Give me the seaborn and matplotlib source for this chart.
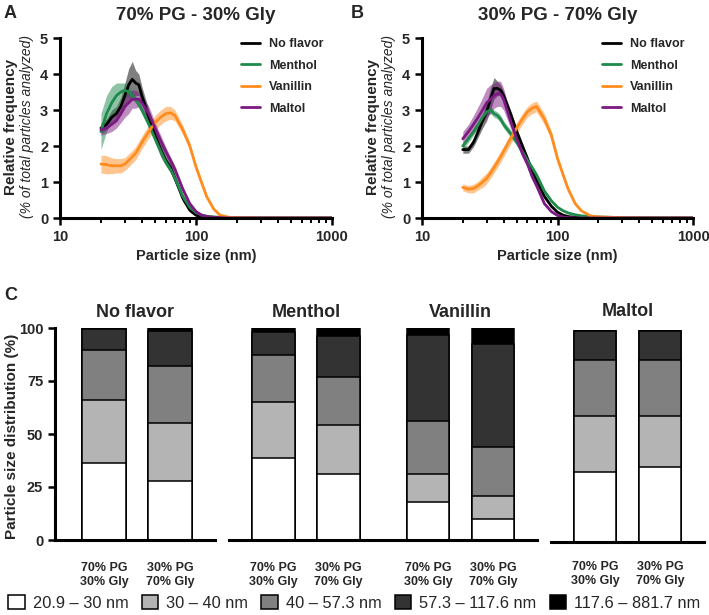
import matplotlib
matplotlib.use("Agg")
import matplotlib.pyplot as plt
import seaborn as sns
import pandas as pd
import numpy as np
from matplotlib.patches import Patch
from matplotlib.ticker import LogLocator, NullFormatter

sns.set_theme(style="ticks")
plt.rcParams['font.family'] = ['Liberation Sans', 'DejaVu Sans']

# particle size grid (nm)
size_nm = [20, 22, 24, 26, 28, 30, 32, 34, 36, 38, 40, 45, 50, 55, 60, 65, 70, 80, 90, 100,
           110, 120, 135, 150, 175, 200, 300, 500, 1000]

flavors = ["No flavor", "Menthol", "Vanillin", "Maltol"]
line_colors = ["#000000", "#1e8a4c", "#ff8c1e", "#7d1a82"]

# panel A: 70% PG - 30% Gly  (mean and band half-width)
a_noflavor = [2.5, 2.6, 2.8, 2.9, 3.1, 3.4, 3.7, 3.85, 3.75, 3.7, 3.4, 2.8, 2.3, 1.9, 1.6, 1.4, 1.1, 0.55, 0.22, 0.08,
              0.04, 0.02, 0.01, 0, 0, 0, 0, 0, 0]
a_noflavor_sd = [0.15, 0.15, 0.2, 0.2, 0.25, 0.35, 0.45, 0.5, 0.35, 0.3, 0.25, 0.2, 0.2, 0.2, 0.15, 0.15, 0.12, 0.1, 0.06, 0.04,
                 0.02, 0.01, 0.01, 0, 0, 0, 0, 0, 0]
a_menthol = [2.4, 2.9, 3.2, 3.4, 3.5, 3.55, 3.5, 3.4, 3.3, 3.15, 3.0, 2.6, 2.2, 1.85, 1.55, 1.35, 1.1, 0.6, 0.3, 0.15,
             0.08, 0.05, 0.03, 0.02, 0.01, 0.01, 0, 0, 0]
a_menthol_sd = [0.5, 0.5, 0.45, 0.35, 0.25, 0.2, 0.15, 0.12, 0.1, 0.1, 0.1, 0.1, 0.1, 0.1, 0.08, 0.08, 0.06, 0.05, 0.04, 0.03,
                0.02, 0.01, 0.01, 0, 0, 0, 0, 0, 0]
a_vanillin = [1.5, 1.48, 1.45, 1.45, 1.45, 1.5, 1.6, 1.7, 1.8, 1.95, 2.1, 2.4, 2.65, 2.8, 2.9, 2.92, 2.85, 2.45, 2.0, 1.42,
              0.98, 0.59, 0.25, 0.08, 0.02, 0.01, 0, 0, 0]
a_vanillin_sd = [0.25, 0.25, 0.22, 0.2, 0.2, 0.18, 0.18, 0.18, 0.18, 0.18, 0.18, 0.18, 0.2, 0.2, 0.2, 0.18, 0.15, 0.12, 0.1, 0.08,
                 0.07, 0.05, 0.03, 0.02, 0.01, 0, 0, 0, 0]
a_maltol = [2.45, 2.5, 2.6, 2.7, 2.9, 3.1, 3.2, 3.3, 3.3, 3.3, 3.2, 2.9, 2.5, 2.15, 1.85, 1.6, 1.35, 0.8, 0.4, 0.18,
            0.08, 0.04, 0.02, 0.01, 0, 0, 0, 0, 0]
a_maltol_sd = [0.15, 0.15, 0.2, 0.2, 0.25, 0.3, 0.3, 0.25, 0.25, 0.2, 0.2, 0.2, 0.15, 0.15, 0.12, 0.1, 0.1, 0.08, 0.05, 0.03,
               0.02, 0.01, 0.01, 0, 0, 0, 0, 0, 0]

# panel B: 30% PG - 70% Gly
b_noflavor = [1.9, 1.9, 2.1, 2.4, 2.7, 2.95, 3.3, 3.6, 3.6, 3.55, 3.4, 2.9, 2.4, 2.0, 1.65, 1.3, 1.05, 0.6, 0.33, 0.16,
              0.08, 0.04, 0.02, 0.01, 0.01, 0, 0, 0, 0]
b_noflavor_sd = [0.1, 0.1, 0.12, 0.15, 0.2, 0.25, 0.3, 0.3, 0.2, 0.15, 0.12, 0.1, 0.1, 0.1, 0.08, 0.08, 0.06, 0.05, 0.04, 0.03,
                 0.02, 0.01, 0.01, 0, 0, 0, 0, 0, 0]
b_menthol = [2.0, 2.2, 2.4, 2.6, 2.8, 2.95, 3.0, 2.9, 2.85, 2.75, 2.6, 2.35, 2.1, 1.85, 1.6, 1.4, 1.2, 0.75, 0.48, 0.3,
             0.2, 0.14, 0.09, 0.06, 0.04, 0.03, 0.01, 0.005, 0]
b_menthol_sd = [0.1, 0.1, 0.1, 0.1, 0.1, 0.1, 0.1, 0.1, 0.1, 0.1, 0.1, 0.1, 0.08, 0.08, 0.08, 0.07, 0.06, 0.05, 0.04, 0.03,
                0.02, 0.02, 0.01, 0.01, 0.01, 0, 0, 0, 0]
b_vanillin = [0.85, 0.8, 0.82, 0.9, 1.0, 1.1, 1.25, 1.4, 1.55, 1.7, 1.85, 2.2, 2.5, 2.75, 2.95, 3.05, 3.1, 2.75, 2.3, 1.65,
              1.2, 0.8, 0.4, 0.2, 0.06, 0.03, 0.01, 0, 0]
b_vanillin_sd = [0.1, 0.1, 0.12, 0.12, 0.15, 0.15, 0.15, 0.15, 0.15, 0.15, 0.15, 0.15, 0.15, 0.15, 0.15, 0.15, 0.15, 0.15, 0.12, 0.1,
                 0.08, 0.06, 0.04, 0.03, 0.01, 0.01, 0, 0, 0]
b_maltol = [2.2, 2.4, 2.6, 2.8, 3.0, 3.2, 3.3, 3.4, 3.45, 3.45, 3.3, 2.7, 2.2, 1.8, 1.5, 1.15, 0.9, 0.4, 0.18, 0.07,
            0.03, 0.01, 0, 0, 0, 0, 0, 0, 0]
b_maltol_sd = [0.2, 0.2, 0.25, 0.3, 0.35, 0.4, 0.4, 0.35, 0.35, 0.35, 0.3, 0.2, 0.15, 0.12, 0.1, 0.08, 0.06, 0.05, 0.04, 0.02,
               0.01, 0.01, 0, 0, 0, 0, 0, 0, 0]

# panel C: stacked size-bin distribution (%)
bins = ["20.9 \u2013 30 nm", "30 \u2013 40 nm", "40 \u2013 57.3 nm", "57.3 \u2013 117.6 nm", "117.6 \u2013 881.7 nm"]
bin_colors = ["#ffffff", "#b4b4b4", "#808080", "#333333", "#000000"]
mixes = ["70% PG\n30% Gly", "30% PG\n70% Gly"]
c_noflavor = [[36.2, 29.9, 23.7, 9.7, 0.5], [27.7, 27.7, 26.5, 16.5, 1.6]]
c_menthol = [[38.6, 26.3, 22.2, 11.0, 1.9], [31.2, 23.0, 22.5, 19.4, 3.9]]
c_vanillin = [[18.0, 13.3, 24.9, 40.7, 3.1], [10.0, 10.6, 23.3, 48.7, 7.4]]
c_maltol = [[33.2, 26.3, 26.4, 13.5, 0.6], [35.2, 24.4, 26.3, 13.5, 0.6]]

W, H = 709, 615
fig = plt.figure(figsize=(W / 100, H / 100), dpi=100)


def box(x0, y0, x1, y1):
    return [x0 / W, 1 - y1 / H, (x1 - x0) / W, (y1 - y0) / H]


def curve_panel(ax, title, means, sds):
    rows = []
    for f, m in zip(flavors, means):
        for s, v in zip(size_nm, m):
            rows.append({"size": s, "freq": v, "flavor": f})
    df = pd.DataFrame(rows)
    for f, c, m, sd in zip(flavors, line_colors, means, sds):
        m = np.array(m)
        sd = np.array(sd)
        ax.fill_between(size_nm, np.clip(m - sd, 0, None), m + sd, color=c, alpha=0.5, lw=0)
    sns.lineplot(data=df, x="size", y="freq", hue="flavor", palette=line_colors,
                 hue_order=flavors, ax=ax, lw=2)
    ax.set_xscale("log")
    ax.set_xlim(10, 1000)
    ax.set_ylim(0, 5)
    ax.set_yticks([0, 1, 2, 3, 4, 5])
    ax.xaxis.set_minor_locator(LogLocator(base=10, subs=np.arange(2, 10)))
    ax.xaxis.set_minor_formatter(NullFormatter())
    ax.set_xticks([10, 100, 1000])
    ax.set_xticklabels(["10", "100", "1000"])
    for lab in ax.get_xticklabels() + ax.get_yticklabels():
        lab.set_fontweight("bold")
        lab.set_fontsize(10.5)
    ax.tick_params(axis="both", which="major", width=1.8, length=5, direction="out", color="black")
    ax.tick_params(axis="x", which="minor", width=1.4, length=3.5, color="black")
    for sp in ["left", "bottom"]:
        ax.spines[sp].set_linewidth(2.2)
        ax.spines[sp].set_color("black")
    sns.despine(ax=ax)
    ax.set_xlabel("Particle size (nm)", fontsize=10.5, fontweight="bold", labelpad=4)
    ax.set_ylabel("")
    ax.set_title(title, fontsize=13.5, fontweight="bold", pad=13)
    leg = ax.legend(loc="upper right", frameon=False, fontsize=9, handlelength=1.5,
                    bbox_to_anchor=(1.01, 1.06), labelspacing=0.75, handletextpad=0.7)
    for t in leg.get_texts():
        t.set_fontweight("bold")
    for h in leg.get_lines():
        h.set_linewidth(2)


axA = fig.add_axes(box(60, 38, 332, 218))
curve_panel(axA, "70% PG - 30% Gly", [a_noflavor, a_menthol, a_vanillin, a_maltol],
            [a_noflavor_sd, a_menthol_sd, a_vanillin_sd, a_maltol_sd])
axB = fig.add_axes(box(422, 38, 693, 218))
curve_panel(axB, "30% PG - 70% Gly", [b_noflavor, b_menthol, b_vanillin, b_maltol],
            [b_noflavor_sd, b_menthol_sd, b_vanillin_sd, b_maltol_sd])

for xpos in [11, 373]:
    fig.text(xpos / W, 1 - 127 / H, "Relative frequency", rotation=90, ha="center", va="center",
             fontsize=11, fontweight="bold")
    fig.text((xpos + 16) / W, 1 - 127 / H, "(% of total particles analyzed)", rotation=90,
             ha="center", va="center", fontsize=10, fontstyle="italic")

fig.text(4 / W, 1 - 14 / H, "A", fontsize=13, fontweight="bold", va="center")
fig.text(351 / W, 1 - 14 / H, "B", fontsize=13, fontweight="bold", va="center")
fig.text(4 / W, 1 - 296 / H, "C", fontsize=13, fontweight="bold", va="center")

# panel C
groups = [("No flavor", c_noflavor, (55, 215, 540), (-0.74, 1.68)),
          ("Menthol", c_menthol, (229, 383, 540), (-0.68, 1.68)),
          ("Vanillin", c_vanillin, (384, 537, 540), (-0.68, 1.68)),
          ("Maltol", c_maltol, (551, 704, 542), (-0.68, 1.68))]

for i, (name, vals, (x0, x1, yb), xl) in enumerate(groups):
    ax = fig.add_axes(box(x0, yb - 212, x1, yb))
    rows = []
    for mix, v in zip(mixes, vals):
        cum = np.cumsum(v)
        for b, top in zip(bins, cum):
            rows.append({"mix": mix, "bin": b, "top": top})
    df = pd.DataFrame(rows)
    for b, col in reversed(list(zip(bins, bin_colors))):
        sns.barplot(data=df[df["bin"] == b], x="mix", y="top", color=col, width=0.66,
                    edgecolor="black", linewidth=1.1, ax=ax, order=mixes, saturation=1)
    ax.set_ylim(0, 100)
    ax.set_xlim(*xl)
    ax.set_xlabel("")
    ax.set_ylabel("")
    ax.set_title(name, fontsize=13, fontweight="bold", pad=8 + (yb - 540))
    ax.tick_params(axis="x", length=0, pad=16 - (yb - 540))
    for lab in ax.get_xticklabels():
        lab.set_fontweight("bold")
        lab.set_fontsize(9)
    ax.spines["bottom"].set_linewidth(2.2)
    ax.spines["bottom"].set_color("black")
    sns.despine(ax=ax)
    if i == 0:
        ax.set_yticks([0, 25, 50, 75, 100])
        for lab in ax.get_yticklabels():
            lab.set_fontweight("bold")
            lab.set_fontsize(10.5)
        ax.tick_params(axis="y", width=1.8, length=5, color="black")
        ax.spines["left"].set_linewidth(2.2)
        ax.spines["left"].set_color("black")
    else:
        ax.spines["left"].set_visible(False)
        ax.set_yticks([])

fig.text(12 / W, 1 - 436 / H, "Particle size distribution (%)", rotation=90, ha="center", va="center",
         fontsize=11, fontweight="bold")

handles = [Patch(facecolor=c, edgecolor="black", linewidth=1.1) for c in bin_colors]
fig.legend(handles, bins, loc="center", bbox_to_anchor=(0.5, 1 - 603 / H), ncol=5, frameon=False,
           fontsize=11.8, handlelength=1.0, handleheight=0.9, columnspacing=0.8, handletextpad=0.5)

fig.savefig("out.png", dpi=100)
